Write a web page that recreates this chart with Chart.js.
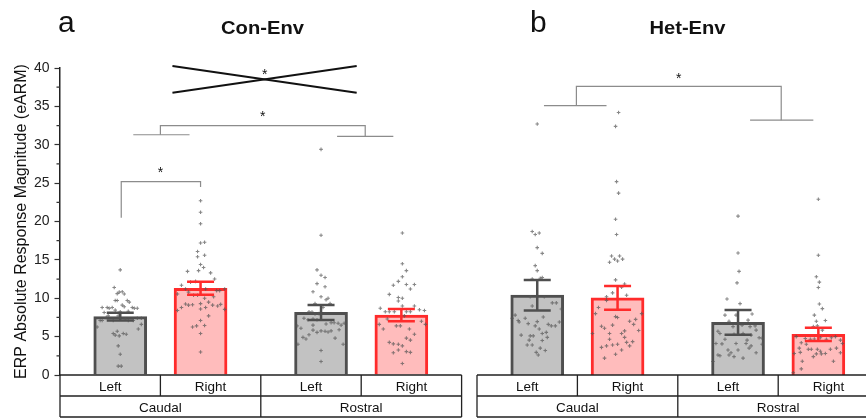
<!DOCTYPE html>
<html>
<head>
<meta charset="utf-8">
<title>ERP response magnitude</title>
<script src="https://cdn.jsdelivr.net/npm/chart.js@4/dist/chart.umd.min.js"></script>
<style>
    html, body { margin: 0; padding: 0; background: #fff; overflow: hidden; }
    #wrap { position: relative; width: 866px; height: 418px; overflow: hidden; }
    #wrap canvas { position: absolute; top: 0; }
    #con-env { left: 0; }
    #het-env { left: 466px; }
</style>
</head>
<body>
<div id="wrap">
    <canvas id="con-env" width="470" height="418"></canvas>
    <canvas id="het-env" width="420" height="418"></canvas>
</div>
<script>
// Bar order in both panels: Caudal-Left, Caudal-Right, Rostral-Left, Rostral-Right
const sideLabels = ["Left", "Right", "Left", "Right"];
const regionLabels = ["Caudal", "Rostral"];
// x positions in axis units (one table cell = 1 unit)
const barPositions = [0.6, 1.4, 2.6, 3.4];

const conEnvMeans = [7.6, 11.3, 8.15, 7.8];
const conEnvSem = [0.5, 0.85, 0.97, 0.8];
const hetEnvMeans = [10.4, 10.05, 6.86, 5.3];
const hetEnvSem = [1.98, 1.56, 1.61, 0.87];

// individual recordings: [jitter from bar position, eARM]
const conCaudalLeft = [[0,13.7],[-0.06,11.4],[-0.03,10.6],[-0.01,10.8],[0.02,10.85],[0.04,10.55],[-0.05,9.7],[-0.03,9.7],[0.07,9.7],[0.09,9.5],[0.02,9.1],[0.04,8.9],[-0.18,8.8],[-0.13,8.8],[-0.11,8.7],[-0.08,8.8],[0.12,8.8],[0.14,8.7],[0.17,8.7],[-0.05,8.45],[-0.16,8.15],[0.08,8.3],[0,8.25],[-0.18,7.1],[-0.2,7.1],[-0.14,7.5],[-0.12,7.7],[-0.07,7.1],[0.05,7.3],[0.08,7.1],[0.13,7.1],[0.17,7.4],[0.21,7.4],[-0.02,7.7],[0.21,6.6],[-0.23,6.25],[0.18,6.0],[-0.03,5.7],[-0.07,5.4],[-0.05,5.2],[-0.01,5.1],[0.03,5.4],[0.06,5.3],[-0.02,3.8],[0,2.7],[-0.02,1.15],[0.01,1.15]];
const conCaudalRight = [[0,22.7],[0,21.2],[0,19.7],[0,17.2],[0.04,17.3],[-0.03,16.1],[-0.03,15.4],[0.04,15.6],[0,14.4],[0.03,14.0],[-0.02,13.6],[0.1,13.3],[-0.13,13.5],[0.14,12.5],[-0.05,12.2],[-0.19,11.7],[-0.1,12.1],[-0.15,11.2],[-0.12,10.8],[-0.07,10.4],[-0.03,10.4],[-0.23,10.55],[0.05,11.2],[0.16,11.0],[0.19,11.0],[0.24,11.2],[0.13,10.2],[0.04,10.0],[0.08,9.5],[0.12,9.1],[0.17,9.0],[0.2,9.2],[0,9.3],[-0.15,9.25],[-0.12,9.1],[-0.08,9.15],[-0.23,8.4],[-0.19,8.8],[0,8.6],[0.05,8.8],[0.24,8.55],[0.08,7.7],[-0.08,6.25],[-0.04,6.4],[0,7.1],[0.04,6.45],[0,5.4],[0,3.0]];
const conRostralLeft = [[0,29.4],[0,18.2],[-0.04,13.7],[0,13.0],[0.04,12.7],[-0.04,11.9],[0.04,11.5],[-0.08,10.85],[0,10.2],[0.05,9.8],[0.07,10.0],[0.09,9.3],[-0.06,9.3],[-0.12,8.25],[-0.09,8.2],[-0.06,7.95],[-0.02,8.0],[0.02,8.8],[-0.17,7.4],[-0.13,7.2],[-0.08,7.3],[-0.04,7.2],[-0.24,6.4],[-0.2,6.1],[-0.08,6.5],[0.05,6.65],[0.1,6.8],[0.13,6.8],[0.17,6.75],[0.2,6.5],[0.23,6.75],[-0.08,5.85],[-0.04,5.55],[0,5.75],[0.04,5.7],[0.07,5.6],[0.1,5.75],[-0.12,5.25],[0.18,5.9],[-0.18,4.9],[-0.15,4.7],[0.14,4.8],[-0.23,4.0],[0.22,4.0],[0,3.2],[0,1.75]];
const conRostralRight = [[0.01,18.5],[0.01,14.5],[0.05,13.6],[0.01,12.8],[-0.03,12.2],[-0.08,11.7],[0.05,11.8],[0.13,11.8],[0.09,11.2],[-0.12,10.5],[-0.03,10.1],[0.01,10.0],[-0.03,9.65],[0.01,9.0],[0.13,9.0],[-0.21,8.7],[0.18,8.5],[0.23,8.4],[-0.16,8.25],[-0.12,8.25],[-0.07,8.25],[0.05,8.25],[0.09,8.25],[-0.14,7.3],[0.03,7.7],[0.2,7.0],[0.24,6.6],[-0.22,6.6],[-0.18,6.0],[-0.05,6.4],[-0.01,6.4],[0.08,6.0],[0.13,5.3],[0.05,4.8],[0.09,4.55],[-0.12,4.25],[-0.08,4.05],[-0.03,4.0],[0.01,3.8],[-0.03,3.25],[-0.08,2.9],[0.05,3.05],[0.09,2.95],[0.01,1.5]];
const hetCaudalLeft = [[0,32.7],[-0.05,18.7],[-0.02,18.3],[0.02,18.5],[0,16.6],[0.05,15.85],[-0.02,14.25],[0,13.6],[-0.05,12.5],[0.03,12.6],[0.05,12.7],[-0.07,10.2],[0.07,10.2],[0.15,9.4],[0.19,9.4],[-0.05,9.0],[0.24,8.6],[-0.22,7.8],[-0.25,7.4],[-0.19,7.1],[-0.18,6.9],[-0.12,7.4],[-0.09,6.7],[-0.02,6.4],[0,6.95],[0.06,7.55],[0.11,6.6],[0.14,6.4],[0.18,6.4],[0.22,6.9],[0.02,6.0],[0.05,5.4],[0.09,5.55],[-0.04,5.1],[-0.07,5.1],[0.1,4.9],[0.05,4.5],[-0.16,5.2],[-0.08,4.55],[-0.1,3.9],[-0.05,3.9],[0.03,3.5],[0.08,3.2],[-0.01,2.95],[0.01,2.6]];
const hetCaudalRight = [[0.01,34.2],[-0.02,32.4],[-0.01,25.2],[0.01,23.7],[-0.02,20.3],[-0.01,18.3],[-0.06,15.5],[0.02,15.5],[-0.03,15.1],[0.05,15.1],[-0.08,14.7],[0,14.85],[-0.02,12.4],[0.07,11.85],[0.04,11.45],[-0.05,10.7],[-0.11,10.2],[0.09,10.4],[-0.11,9.7],[-0.19,8.8],[-0.22,8.0],[0.24,8.0],[-0.02,7.6],[0,7.5],[0.18,7.25],[0.12,7.0],[0.16,6.6],[-0.16,6.35],[-0.13,6.1],[-0.05,6.5],[0.21,5.8],[0.07,5.75],[0.04,5.4],[-0.25,5.4],[-0.08,5.4],[0.07,4.9],[-0.08,4.65],[0.09,4.25],[0.15,4.35],[0.12,3.8],[-0.16,3.6],[-0.11,3.8],[-0.05,3.9],[0,4.0],[0.04,3.25],[-0.02,2.7],[-0.13,2.2]];
const hetRostralLeft = [[0,20.7],[0,15.9],[0.01,13.5],[-0.01,12.0],[-0.11,9.9],[0.02,9.3],[-0.13,7.8],[-0.02,7.8],[0.14,7.95],[-0.09,7.0],[0.04,6.5],[0.1,7.15],[0.12,6.3],[0.17,6.4],[-0.05,6.3],[-0.2,5.7],[-0.18,5.4],[-0.13,4.65],[0.18,5.85],[0.13,5.2],[0.21,4.85],[0.24,4.8],[0.05,5.4],[-0.04,5.3],[-0.22,4.1],[-0.16,4.05],[-0.02,4.1],[0.08,4.1],[0.13,3.8],[0.09,4.55],[0.24,4.0],[-0.1,3.25],[0,3.25],[0.18,2.9],[0.11,3.5],[-0.07,2.9],[-0.2,2.6],[-0.18,2.5],[-0.04,2.4],[0.05,2.2],[-0.09,2.6],[-0.25,1.75]];
const hetRostralRight = [[0,22.9],[0,15.6],[-0.02,12.8],[0.01,12.1],[0,11.4],[0.01,9.25],[0.04,8.65],[-0.04,7.8],[0.07,7.1],[-0.02,7.0],[-0.05,6.3],[-0.01,6.4],[0.04,5.85],[-0.22,5.0],[-0.13,4.75],[-0.08,4.65],[-0.04,4.7],[0.02,4.85],[0.08,4.65],[0.13,4.85],[0.17,5.0],[0.22,4.55],[0.24,4.1],[-0.17,4.2],[-0.12,4.0],[-0.19,3.5],[-0.24,2.8],[-0.18,2.95],[-0.1,3.35],[-0.07,3.35],[-0.01,3.35],[0.02,3.1],[0.07,2.8],[0.12,3.35],[0.18,3.5],[0.03,2.75],[-0.02,2.75],[0.22,2.9],[-0.05,2.4],[-0.16,1.8],[0.15,1.8],[-0.17,0.8],[-0.25,0.3]];

// significance marks, in axis units
const conBrackets = [
    [[0.61, 20.5], [0.61, 25.2], [1.4, 25.2], [1.4, 24.5]],
    [[0.73, 31.3], [1.29, 31.3]],
    [[2.76, 31.1], [3.32, 31.1]],
    [[1.0, 31.3], [1.0, 32.5], [3.04, 32.5], [3.04, 31.1]]
];
const conCross = [
    [[1.12, 40.26], [2.955, 36.78]],
    [[1.12, 36.78], [2.955, 40.26]]
];
const conStars = [[1.0, 26.8], [2.02, 34.1], [2.04, 39.6]];
const hetBrackets = [
    [[0.667, 35.1], [1.29, 35.1]],
    [[0.99, 35.1], [0.99, 37.6], [3.03, 37.6], [3.03, 33.2]],
    [[2.72, 33.2], [3.35, 33.2]]
];
const hetStars = [[2.01, 39.1]];

const FONT = '"Liberation Sans", Arial, Helvetica, sans-serif';
const fillColors = ["#c2c2c2", "#ffbcbc", "#c2c2c2", "#ffbcbc"];
const edgeColors = ["#4f4f4f", "#ff2b2b", "#4f4f4f", "#ff2b2b"];

function toPoints(groups) {
    const pts = [];
    groups.forEach((group, i) => {
        group.forEach(([dx, v]) => pts.push({ x: barPositions[i] + dx, y: v }));
    });
    return pts;
}

function strokePath(ctx, chart, path) {
    const { x, y } = chart.scales;
    ctx.beginPath();
    path.forEach(([px, py], k) => {
        const X = x.getPixelForValue(px), Y = y.getPixelForValue(py);
        if (k === 0) ctx.moveTo(X, Y); else ctx.lineTo(X, Y);
    });
    ctx.stroke();
}

// Error bars, brackets, table axis and headings
const panelDecor = {
    id: "panelDecor",
    afterDatasetsDraw(chart, args, opts) {
        const { ctx } = chart;
        const { x, y } = chart.scales;
        ctx.save();

        // SEM error bars
        ctx.lineWidth = 2.5;
        opts.means.forEach((m, i) => {
            const px = x.getPixelForValue(barPositions[i]);
            const top = y.getPixelForValue(m + opts.sem[i]);
            const bot = y.getPixelForValue(m - opts.sem[i]);
            ctx.strokeStyle = edgeColors[i];
            ctx.beginPath();
            ctx.moveTo(px, top); ctx.lineTo(px, bot);
            ctx.moveTo(px - 13.5, top); ctx.lineTo(px + 13.5, top);
            ctx.moveTo(px - 13.5, bot); ctx.lineTo(px + 13.5, bot);
            ctx.stroke();
        });

        // comparison brackets
        ctx.strokeStyle = "#8c8c8c";
        ctx.lineWidth = 1.2;
        opts.brackets.forEach(p => strokePath(ctx, chart, p));

        // interaction cross
        ctx.strokeStyle = "#111";
        ctx.lineWidth = 2;
        (opts.cross || []).forEach(p => strokePath(ctx, chart, p));

        ctx.fillStyle = "#111";
        ctx.font = "14px " + FONT;
        ctx.textAlign = "center";
        ctx.textBaseline = "alphabetic";
        opts.stars.forEach(([sx, sy]) => {
            ctx.fillText("*", x.getPixelForValue(sx), y.getPixelForValue(sy) + 8);
        });
        ctx.restore();
    },
    afterDraw(chart, args, opts) {
        const { ctx, chartArea: { left, right, bottom } } = chart;
        const cell = (right - left) / 4;
        const rowH = 21;
        ctx.save();

        // two-row category table under the bars
        ctx.strokeStyle = "#222";
        ctx.lineWidth = 1.3;
        ctx.beginPath();
        [0, 1, 2].forEach(r => {
            ctx.moveTo(left, bottom + r * rowH);
            ctx.lineTo(right, bottom + r * rowH);
        });
        [0, 1, 2, 3, 4].forEach(c => {
            const cx = left + c * cell;
            ctx.moveTo(cx, bottom);
            ctx.lineTo(cx, bottom + (c % 2 === 0 ? 2 : 1) * rowH);
        });
        ctx.stroke();

        ctx.fillStyle = "#111";
        ctx.font = "13.5px " + FONT;
        ctx.textAlign = "center";
        ctx.textBaseline = "alphabetic";
        sideLabels.forEach((s, i) => ctx.fillText(s, left + (i + 0.5) * cell, bottom + 16));
        regionLabels.forEach((s, i) => ctx.fillText(s, left + (i + 0.5) * 2 * cell, bottom + 37));

        // minor ticks on the value axis
        if (chart.scales.y.options.display) {
            const y = chart.scales.y;
            ctx.strokeStyle = "#333";
            ctx.lineWidth = 1.2;
            ctx.beginPath();
            for (let v = 2.5; v < 40; v += 5) {
                const py = y.getPixelForValue(v);
                ctx.moveTo(left - 3.5, py);
                ctx.lineTo(left, py);
            }
            ctx.stroke();
        }

        // panel letter and heading
        ctx.textAlign = "left";
        ctx.font = "30px " + FONT;
        ctx.fillText(opts.tag, opts.tagX, 32);
        ctx.translate(opts.titleX, 34);
        ctx.scale(1.12, 1);
        ctx.textAlign = "center";
        ctx.font = "bold 18px " + FONT;
        ctx.fillText(opts.title, 0, 0);
        ctx.restore();
    }
};

function makePanel(canvasId, cfg) {
    const ctx = document.getElementById(canvasId);
    return new Chart(ctx, {
        type: "bar",
        data: {
            datasets: [
                {
                    type: "scatter",
                    data: toPoints(cfg.groups),
                    pointStyle: "cross",
                    pointRadius: 1.8,
                    borderWidth: 1.1,
                    borderColor: "rgba(85, 85, 85, 0.7)",
                    order: 1
                },
                {
                    type: "bar",
                    data: barPositions.map((px, i) => ({ x: px, y: cfg.means[i] })),
                    backgroundColor: fillColors,
                    borderColor: edgeColors,
                    borderWidth: 3,
                    barThickness: 53,
                    order: 2
                }
            ]
        },
        options: {
            responsive: false,
            animation: false,
            layout: { padding: cfg.padding },
            plugins: {
                legend: { display: false },
                tooltip: { enabled: false },
                panelDecor: {
                    means: cfg.means,
                    sem: cfg.sem,
                    brackets: cfg.brackets,
                    cross: cfg.cross,
                    stars: cfg.stars,
                    tag: cfg.tag,
                    tagX: cfg.tagX,
                    title: cfg.title,
                    titleX: cfg.titleX
                }
            },
            scales: {
                x: { type: "linear", min: 0, max: 4, offset: false, display: false },
                y: {
                    display: cfg.showAxis,
                    min: 0,
                    max: 40,
                    ticks: { stepSize: 5, color: "#222", padding: 5, font: { family: FONT, size: 14 } },
                    grid: { drawOnChartArea: false, tickLength: 5.5, tickColor: "#333", tickWidth: 1.2 },
                    border: { display: true, color: "#222", width: 1.5 },
                    title: {
                        display: true,
                        text: "ERP Absolute Response Magnitude (eARM)",
                        color: "#111",
                        padding: { top: 12, bottom: 0 },
                        font: { family: FONT, size: 16 }
                    },
                    afterFit(scale) { scale.width = cfg.showAxis ? 60 : 0; }
                }
            }
        },
        plugins: [panelDecor]
    });
}

makePanel("con-env", {
    groups: [conCaudalLeft, conCaudalRight, conRostralLeft, conRostralRight],
    means: conEnvMeans,
    sem: conEnvSem,
    brackets: conBrackets,
    cross: conCross,
    stars: conStars,
    tag: "a", tagX: 58,
    title: "Con-Env", titleX: 262.5,
    showAxis: true,
    padding: { left: 0, right: 8.4, top: 68, bottom: 43 }
});

makePanel("het-env", {
    groups: [hetCaudalLeft, hetCaudalRight, hetRostralLeft, hetRostralRight],
    means: hetEnvMeans,
    sem: hetEnvSem,
    brackets: hetBrackets,
    cross: [],
    stars: hetStars,
    tag: "b", tagX: 64,
    title: "Het-Env", titleX: 221.5,
    showAxis: false,
    padding: { left: 11, right: 7.4, top: 68, bottom: 43 }
});
</script>
</body>
</html>
